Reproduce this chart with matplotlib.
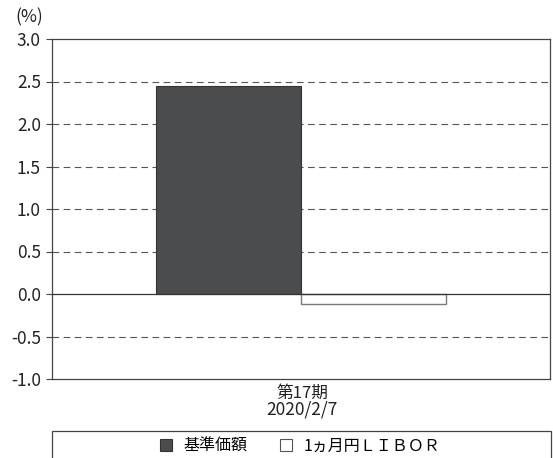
import matplotlib
matplotlib.use("Agg")
import matplotlib.pyplot as plt
from matplotlib.patches import Rectangle, Patch

plt.rcParams['font.family'] = ['Noto Sans CJK JP', 'DejaVu Sans']

# data
period_label = "第17期"
date_label = "2020/2/7"
series_names = ["基準価額", "1ヵ月円ＬＩＢＯＲ"]
nav_values = [2.45]
libor_values = [-0.12]
y_ticks = [-1.0, -0.5, 0.0, 0.5, 1.0, 1.5, 2.0, 2.5, 3.0]

W, H = 553, 458
fig = plt.figure(figsize=(W / 100, H / 100), dpi=100)
ax = fig.add_axes([52 / W, 1 - 379 / H, 498 / W, 340 / H])

w = 0.291
xs = [0]
ax.bar([x - w / 2 for x in xs], nav_values, width=w, color="#4b4c4e",
       edgecolor="#333333", linewidth=0.8, zorder=3, label=series_names[0])
ax.bar([x + w / 2 for x in xs], libor_values, width=w, color="white",
       edgecolor="#7a7a7a", linewidth=1.0, zorder=3, label=series_names[1])

ax.set_xlim(-0.5, 0.5)
ax.set_ylim(-1.0, 3.0)
ax.set_yticks(y_ticks)
ax.set_yticklabels([f"{v:.1f}" for v in y_ticks], fontsize=12.5)
ax.set_xticks([])
ax.tick_params(axis="y", length=4, width=0.8, pad=4, colors="#444444",
               labelcolor="#222222")

# category label, two lines (figure pixel positions)
fig.text(302 / W, 1 - 393 / H, period_label, ha="center", va="center",
         fontsize=12, color="#222222")
fig.text(302 / W, 1 - 409 / H, date_label, ha="center", va="center",
         fontsize=12.5, color="#222222")

for v in y_ticks:
    if v in (-1.0, 3.0):
        continue
    if v == 0.0:
        ax.axhline(v, color="#333333", lw=0.9, zorder=4)
    else:
        ax.axhline(v, color="#555555", lw=0.8, ls=(0, (6, 4)), zorder=1)

for s in ax.spines.values():
    s.set_color("#444444")
    s.set_linewidth(0.9)

fig.text(15 / W, 1 - 17 / H, "(%)", fontsize=12.5, va="center",
         ha="left", color="#222222")

# legend box (cut off at bottom)
box = Rectangle((52 / W, -0.05), 499 / W, 0.05 + (H - 431) / H,
                transform=fig.transFigure, fill=False, edgecolor="#444444",
                linewidth=0.9)
fig.patches.append(box)
handles = [Patch(facecolor="#4b4c4e", edgecolor="#333333", lw=0.8),
           Patch(facecolor="white", edgecolor="#555555", lw=0.8)]
fig.legend(handles, series_names, loc="center", ncol=2,
           bbox_to_anchor=(300 / W, 1 - 446 / H), frameon=False,
           fontsize=11.5, handlelength=0.8, handleheight=0.8,
           handletextpad=0.7, columnspacing=2.0, borderpad=0)

fig.savefig("out.png", dpi=100)
